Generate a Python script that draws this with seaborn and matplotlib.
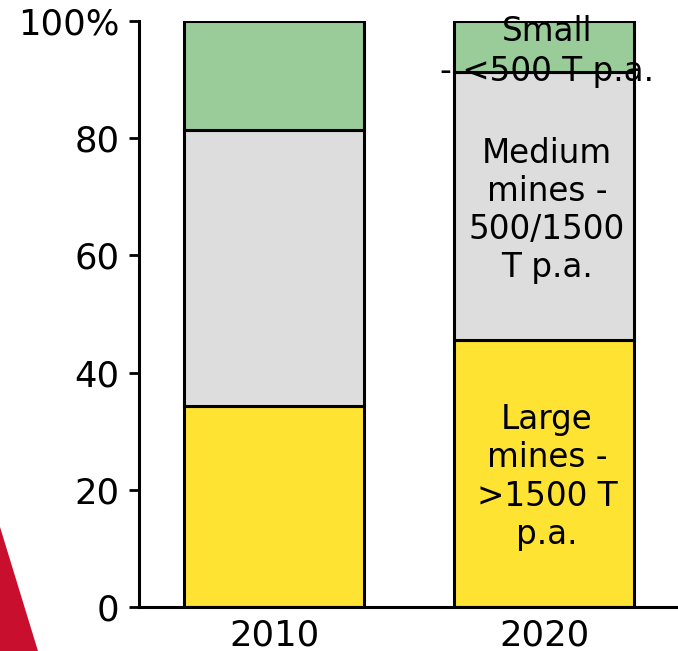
import matplotlib
matplotlib.use("Agg")
import matplotlib.pyplot as plt
from matplotlib.patches import Polygon
import seaborn as sns
import pandas as pd
import numpy as np

# Mine-size share of output, percent
years = ["2010", "2020"]
large = [34.3, 45.6]
medium = [47.1, 45.7]
small = [18.6, 8.7]
yticks = [0, 20, 40, 60, 80, 100]
yticklabels = ["0", "20", "40", "60", "80", "100%"]

segment_labels = {
    "large": "Large\nmines -\n>1500 T\np.a.",
    "medium": "Medium\nmines -\n500/1500\nT p.a.",
    "small": "Small\n- <500 T p.a.",
}
colors = {"large": "#FFE333", "medium": "#DDDDDD", "small": "#99CC99"}

sns.set_theme(style="white")
plt.rcParams["font.family"] = ["DejaVu Sans"]

df = pd.DataFrame({"year": years, "large": large, "medium": medium, "small": small})
df["b_medium"] = df["large"]
df["b_small"] = df["large"] + df["medium"]

fig = plt.figure(figsize=(6.78, 6.51), dpi=100)
ax = fig.add_axes([0.205, 0.0676, 0.797, 0.9001])

edge = dict(edgecolor="black", linewidth=2.2)
sns.barplot(data=df, x="year", y="large", color=colors["large"], width=0.667,
            saturation=1, ax=ax, **edge)
sns.barplot(data=df, x="year", y="medium", bottom=df["b_medium"], color=colors["medium"],
            width=0.667, saturation=1, ax=ax, **edge)
sns.barplot(data=df, x="year", y="small", bottom=df["b_small"], color=colors["small"],
            width=0.667, saturation=1, ax=ax, **edge)

# Segment labels on the 2020 bar
i = 1
lbl = dict(ha="center", va="center", fontsize=23.5, color="black")
ax.text(i + 0.01, large[i] / 2 - 0.6, segment_labels["large"], linespacing=1.2, **lbl)
ax.text(i + 0.01, large[i] + medium[i] / 2 - 0.8, segment_labels["medium"], linespacing=1.2, **lbl)
ax.text(i + 0.01, 94.8, segment_labels["small"], linespacing=1.27, **lbl)

ax.set_xlim(-0.5, 1.5)
ax.set_ylim(0, 100)
ax.set_yticks(yticks)
ax.set_yticklabels(yticklabels)
ax.set_xlabel("")
ax.set_ylabel("")

for s in ["top", "right"]:
    ax.spines[s].set_visible(False)
for s in ["left", "bottom"]:
    ax.spines[s].set_visible(True)
    ax.spines[s].set_color("black")
    ax.spines[s].set_linewidth(2.2)

ax.tick_params(axis="y", left=True, length=7, width=2, pad=7, labelsize=25.5, colors="black")
ax.tick_params(axis="x", bottom=False, length=0, pad=8, labelsize=25.5, colors="black")
ax.grid(False)

# Red corner accent
fig.add_artist(Polygon([[0, 0.1905], [0.056, 0], [0, 0]], closed=True,
                       transform=fig.transFigure, facecolor="#C8102E",
                       edgecolor="none", zorder=0))

fig.savefig("out.png", dpi=100)
